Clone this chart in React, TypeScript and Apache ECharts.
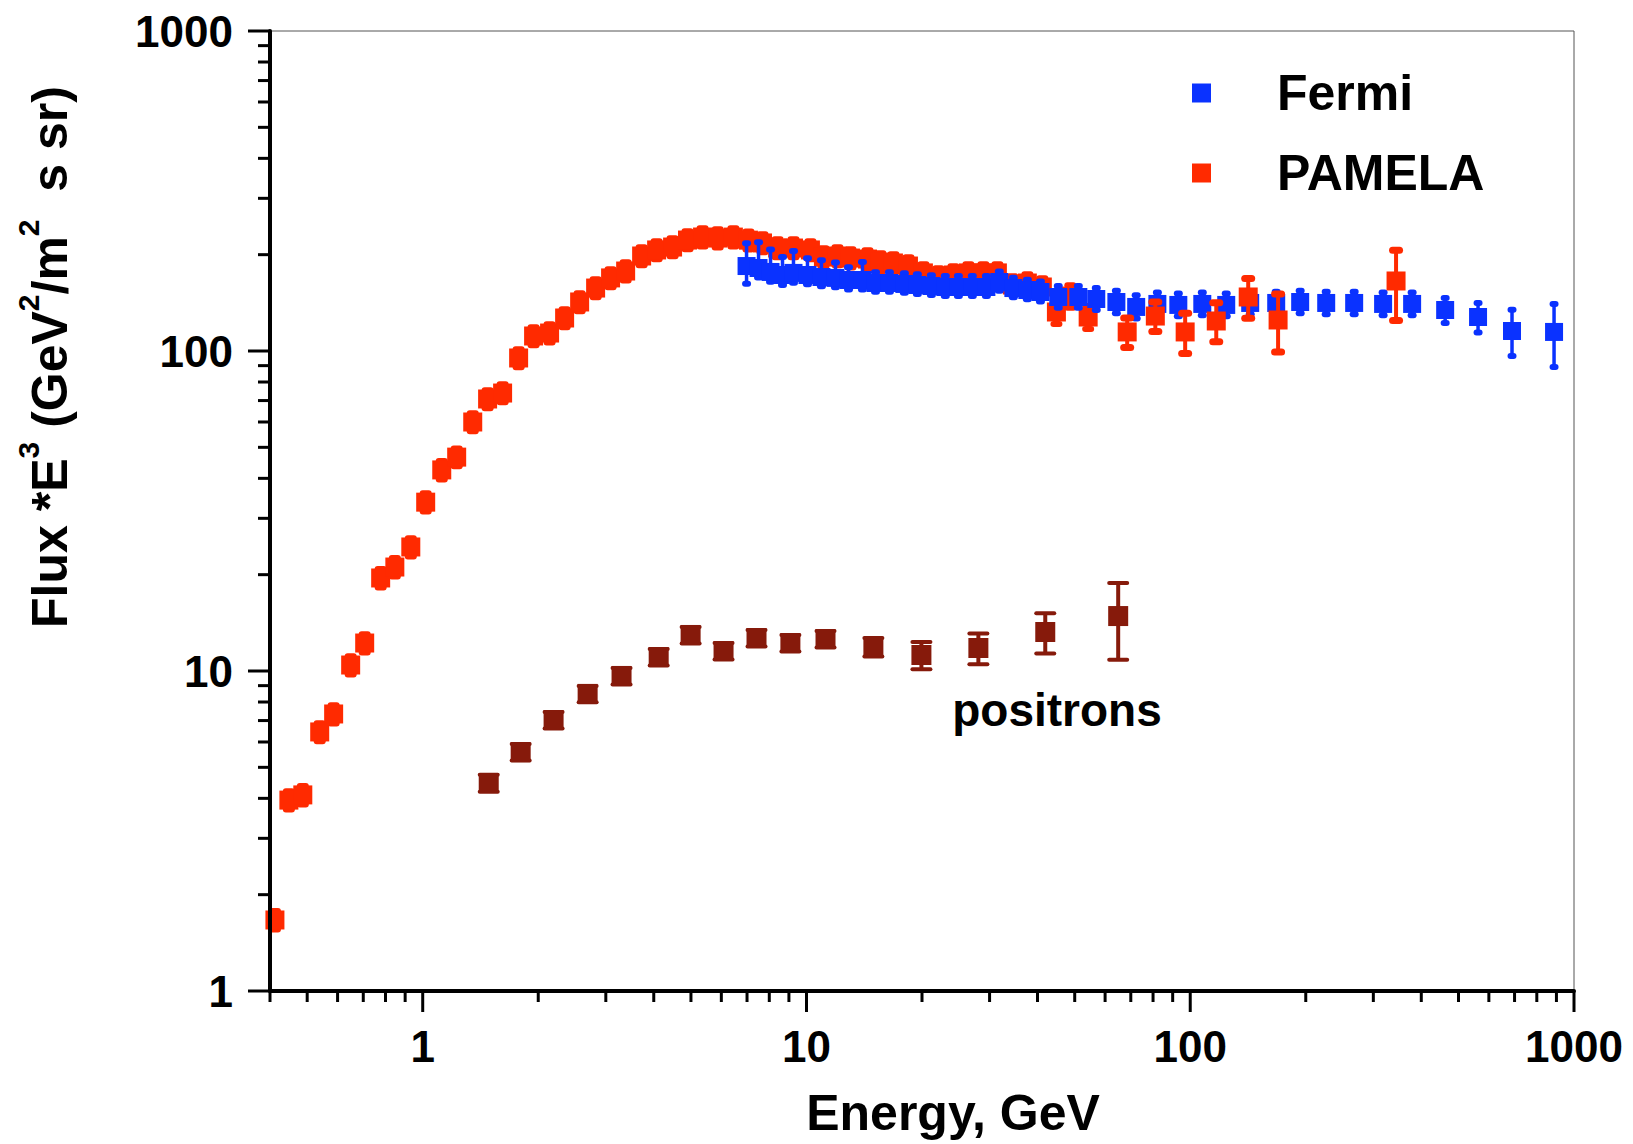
import { useEffect, useRef } from 'react';
import * as echarts from 'echarts';

const FONT = '"Liberation Sans", Arial, Helvetica, sans-serif';
const BLUE = '#0a32ff';
const RED = '#ff2a00';
const MAROON = '#861a0b';

// PAMELA electrons: energy (GeV), flux * E^3 (GeV^2 / m^2 s sr), +/- error
const pamelaEnergy = [
  0.412, 0.448, 0.487, 0.539, 0.586, 0.649, 0.706, 0.777, 0.846, 0.931,
  1.018, 1.121, 1.226, 1.35, 1.476, 1.615, 1.778, 1.945, 2.141, 2.343,
  2.564, 2.822, 3.087, 3.379, 3.719, 4.069, 4.478, 4.898, 5.36, 5.87,
  6.45, 7.06, 7.68, 8.41, 9.25, 10.24, 11.07, 12.04, 13.02, 14.42,
  15.58, 16.85, 18.44, 20.17, 22.07, 24.15, 26.42, 28.9, 31.44, 34.4,
  37.63, 41.17, 44.8, 48.7, 54.2, 68.5, 81.1,
  97, 116.9, 141.6, 169.4, 343.8,
];
const pamelaFlux = [
  1.667, 3.95, 4.1, 6.45, 7.34, 10.44, 12.23, 19.53, 21.13, 24.41,
  33.7, 42.5, 46.6, 60.0, 70.8, 73.9, 95.1, 111.4, 113.8, 126.8,
  142.3, 157.3, 169.2, 177.8, 198.1, 206.9, 211.3, 222.2, 227.1, 225.4,
  227.0, 222.0, 217.6, 209.8, 209.8, 206.9, 196.6, 198.1, 195.2, 193.8,
  189.7, 188.4, 184.3, 175.4, 170.3, 172.8, 175.4, 175.4, 175.4, 160.8,
  163.1, 158.5, 132.4, 148.5, 127.7, 114.7, 128.6,
  114.7, 124.1, 147.5, 125.0, 165.5,
];
const pamelaError = [
  0.11, 0.26, 0.27, 0.42, 0.48, 0.68, 0.8, 1.3, 1.4, 1.6,
  2.2, 2.8, 3.0, 3.9, 4.6, 4.8, 6.2, 7.2, 7.4, 8.2,
  9.2, 10.2, 11, 11.6, 12.9, 13.4, 13.7, 14.4, 14.8, 14.7,
  14.8, 14.4, 14.1, 13.6, 13.6, 13.4, 12.8, 12.9, 12.7, 12.6,
  12.3, 12.2, 12, 11.4, 11.1, 11.2, 11.4, 11.4, 11.4, 10.5,
  10.6, 10.3, 11, 12, 10.5, 12.2, 13.6,
  16.5, 17.3, 21, 25.7, 41,
];
// PAMELA bins above this energy are drawn over the Fermi points
const PAMELA_OVERLAY_GEV = 60;

// Fermi LAT electrons + positrons (asymmetric errors)
const fermiEnergy = [
  6.98, 7.5, 8.06, 8.66, 9.25, 10.06, 10.94, 11.9, 12.87, 13.99,
  15.13, 16.45, 17.99, 19.45, 21.16, 23.0, 24.88, 27.05, 29.43, 31.8,
  34.6, 37.63, 40.7, 45.3, 51.1, 56.9, 64.2, 72.3, 82.1, 93.1,
  107.5, 124.1, 143.3, 167.5, 193.4, 226.1, 267.4, 318.1, 378.6, 461.6,
  562.3, 689.4, 887.2,
];
const fermiFlux = [
  184.3, 181.7, 176.6, 172.8, 175.4, 172.8, 170.3, 169.2, 166.7, 166.7,
  163.1, 163.1, 162.0, 160.8, 159.6, 158.5, 158.5, 158.5, 158.5, 164.3,
  157.3, 155.1, 152.9, 147.5, 147.5, 145.4, 142.3, 137.3, 140.3, 139.3,
  140.3, 139.3, 141.3, 141.3, 142.3, 141.3, 141.3, 140.3, 140.3, 134.3,
  127.7, 115.5, 114.7,
];
const fermiErrorLow = [
  22, 12, 12, 12, 12, 11, 11, 11, 11, 11,
  10, 10, 10, 10, 10, 10, 10, 10, 10, 10,
  10, 10, 10, 11, 11, 11, 11, 11, 11, 11,
  11, 11, 11, 11, 11, 11, 11, 11, 11, 12,
  13.5, 19, 25.5,
];
const fermiErrorHigh = [
  33, 37, 31, 24, 30, 22, 22, 20, 16, 23,
  13, 13, 13, 13, 13, 13, 13, 13, 13, 13,
  12, 12, 12, 12, 12, 12, 12, 12, 12, 12,
  12, 12, 12, 12, 12, 12, 12, 12, 12, 12,
  13.5, 19, 25.5,
];

// PAMELA positrons
const positronEnergy = [
  1.486, 1.8, 2.193, 2.69, 3.297, 4.12, 4.99, 6.08, 7.41, 9.08,
  11.21, 14.94, 19.93, 28.05, 41.9, 64.9,
];
const positronFlux = [
  4.467, 5.58, 7.03, 8.48, 9.65, 11.06, 12.96, 11.55, 12.68, 12.23,
  12.59, 11.89, 11.22, 11.8, 13.24, 14.85,
];
const positronError = [
  0.27, 0.33, 0.42, 0.5, 0.57, 0.65, 0.77, 0.68, 0.75, 0.72,
  0.75, 0.8, 1.1, 1.3, 1.9, 4.0,
];

// Axis ranges and ticks
const X_MIN = 0.4;
const X_MAX = 1000;
const Y_MIN = 1;
const Y_MAX = 1000;
const xMajorTicks = [1, 10, 100, 1000];
const xMinorTicks = [
  0.4, 0.5, 0.6, 0.7, 0.8, 0.9,
  2, 3, 4, 5, 6, 7, 8, 9,
  20, 30, 40, 50, 60, 70, 80, 90,
  200, 300, 400, 500, 600, 700, 800, 900,
];
const yMajorTicks = [1, 10, 100, 1000];
const yMinorTicks = [
  2, 3, 4, 5, 6, 7, 8, 9,
  20, 30, 40, 50, 60, 70, 80, 90,
  200, 300, 400, 500, 600, 700, 800, 900,
];

// rows of [energy, flux, lower error, upper error]
const rows = (e: number[], f: number[], lo: number[], hi: number[]) =>
  e.map((v, i) => [v, f[i], lo[i], hi[i]]);

const decadeLabel = (v: number) => {
  const l = Math.log10(v);
  const r = Math.round(l);
  return Math.abs(l - r) < 1e-6 ? String(Math.round(Math.pow(10, r))) : '';
};

function tickSeries(name: string, data: number[][], horizontal: boolean, len: number) {
  return {
    type: 'custom',
    name,
    silent: true,
    clip: false,
    z: 1,
    data,
    renderItem: (_p: any, api: any) => {
      const p = api.coord([api.value(0), api.value(1)]);
      const shape = horizontal
        ? { x1: p[0], y1: p[1], x2: p[0], y2: p[1] + len }
        : { x1: p[0], y1: p[1], x2: p[0] - len, y2: p[1] };
      return { type: 'line', shape, style: { stroke: '#000', lineWidth: 3 } };
    },
  };
}

function errorBarSeries(
  name: string,
  data: number[][],
  color: string,
  stemWidth: number,
  capHalf: number,
  capWidth: number,
  z: number,
) {
  return {
    type: 'custom',
    name,
    silent: true,
    clip: false,
    z,
    data,
    renderItem: (_p: any, api: any) => {
      const e = api.value(0);
      const f = api.value(1);
      const hi = api.coord([e, f + api.value(3)]);
      const lo = api.coord([e, f - api.value(2)]);
      const cap = (pt: number[]) => ({
        type: 'line',
        shape: { x1: pt[0] - capHalf, y1: pt[1], x2: pt[0] + capHalf, y2: pt[1] },
        style: { stroke: color, lineWidth: capWidth, lineCap: 'round' },
      });
      return {
        type: 'group',
        children: [
          {
            type: 'line',
            shape: { x1: hi[0], y1: hi[1], x2: lo[0], y2: lo[1] },
            style: { stroke: color, lineWidth: stemWidth },
          },
          cap(hi),
          cap(lo),
        ],
      };
    },
  };
}

function markerSeries(name: string, data: number[][], color: string, size: number, z: number) {
  return {
    type: 'scatter',
    name,
    z,
    symbol: 'rect',
    symbolSize: size,
    itemStyle: { color, opacity: 1 },
    emphasis: { disabled: true },
    data: data.map((r) => [r[0], r[1]]),
  };
}

function buildOption() {
  const pamela = rows(pamelaEnergy, pamelaFlux, pamelaError, pamelaError);
  const pamelaUnder = pamela.filter((r) => r[0] < PAMELA_OVERLAY_GEV);
  const pamelaOver = pamela.filter((r) => r[0] >= PAMELA_OVERLAY_GEV);
  const fermi = rows(fermiEnergy, fermiFlux, fermiErrorLow, fermiErrorHigh);
  const positrons = rows(positronEnergy, positronFlux, positronError, positronError);

  const labelStyle = {
    fontSize: 44,
    fontWeight: 'bold',
    fontFamily: FONT,
    color: '#000',
    formatter: decadeLabel,
  };

  return {
    animation: false,
    backgroundColor: '#ffffff',
    textStyle: { fontFamily: FONT },
    grid: {
      left: 270,
      top: 31,
      width: 1304,
      height: 960,
      show: true,
      borderColor: '#555',
      borderWidth: 1,
      backgroundColor: 'transparent',
    },
    xAxis: {
      type: 'log',
      logBase: 10,
      min: X_MIN,
      max: X_MAX,
      z: 10,
      axisLine: { show: true, onZero: false, lineStyle: { color: '#000', width: 4 } },
      axisTick: { show: false },
      minorTick: { show: false },
      splitLine: { show: false },
      axisLabel: { ...labelStyle, margin: 33 },
    },
    yAxis: {
      type: 'log',
      logBase: 10,
      min: Y_MIN,
      max: Y_MAX,
      z: 10,
      axisLine: { show: true, onZero: false, lineStyle: { color: '#000', width: 4 } },
      axisTick: { show: false },
      minorTick: { show: false },
      splitLine: { show: false },
      axisLabel: { ...labelStyle, margin: 37 },
    },
    legend: {
      data: ['Fermi', 'PAMELA'],
      orient: 'vertical',
      left: 1192,
      top: 63,
      padding: 0,
      icon: 'rect',
      itemWidth: 19,
      itemHeight: 19,
      itemGap: 20,
      selectedMode: false,
      textStyle: {
        fontSize: 50,
        fontWeight: 'bold',
        fontFamily: FONT,
        color: '#000',
        lineHeight: 60,
        padding: [0, 0, 0, 61],
      },
    },
    graphic: [
      {
        type: 'text',
        x: 50,
        y: 357,
        rotation: Math.PI / 2,
        style: {
          text: 'Flux *E{sup|3} (GeV{sup|2}/m{sup|2}  s sr)',
          fontSize: 50,
          fontWeight: 'bold',
          fontFamily: FONT,
          fill: '#000',
          lineHeight: 74,
          align: 'center',
          verticalAlign: 'middle',
          rich: {
            sup: {
              fontSize: 30,
              fontWeight: 'bold',
              fontFamily: FONT,
              fill: '#000',
              lineHeight: 30,
              verticalAlign: 'top',
            },
          },
        },
      },
      {
        type: 'text',
        x: 953,
        y: 1113,
        style: {
          text: 'Energy, GeV',
          fontSize: 50,
          fontWeight: 'bold',
          fontFamily: FONT,
          fill: '#000',
          align: 'center',
          verticalAlign: 'middle',
        },
      },
      {
        type: 'text',
        x: 1057,
        y: 710,
        style: {
          text: 'positrons',
          fontSize: 46,
          fontWeight: 'bold',
          fontFamily: FONT,
          fill: '#000',
          align: 'center',
          verticalAlign: 'middle',
        },
      },
    ],
    series: [
      tickSeries('x major ticks', xMajorTicks.map((v) => [v, Y_MIN]), true, 21),
      tickSeries('x minor ticks', xMinorTicks.map((v) => [v, Y_MIN]), true, 11),
      tickSeries('y major ticks', yMajorTicks.map((v) => [X_MIN, v]), false, 22),
      tickSeries('y minor ticks', yMinorTicks.map((v) => [X_MIN, v]), false, 12),

      errorBarSeries('PAMELA errors', pamelaUnder, RED, 4, 3, 6, 2),
      markerSeries('PAMELA', pamelaUnder, RED, 19, 3),

      errorBarSeries('Fermi errors', fermi, BLUE, 3.5, 1.5, 6, 4),
      markerSeries('Fermi', fermi, BLUE, 18, 5),

      errorBarSeries('PAMELA high-energy errors', pamelaOver, RED, 4, 3.5, 7, 6),
      markerSeries('PAMELA', pamelaOver, RED, 19, 7),

      errorBarSeries('positron errors', positrons, MAROON, 4, 9, 4, 8),
      markerSeries('positrons', positrons, MAROON, 20, 9),
    ],
  };
}

export default function App() {
  const ref = useRef<HTMLDivElement>(null);

  useEffect(() => {
    document.body.style.margin = '0';
    document.body.style.overflow = 'hidden';
    const chart = echarts.init(ref.current as HTMLDivElement, undefined, { renderer: 'svg' });
    chart.setOption(buildOption() as any);
    return () => chart.dispose();
  }, []);

  return <div ref={ref} style={{ width: 1633, height: 1144, background: '#ffffff' }} />;
}
